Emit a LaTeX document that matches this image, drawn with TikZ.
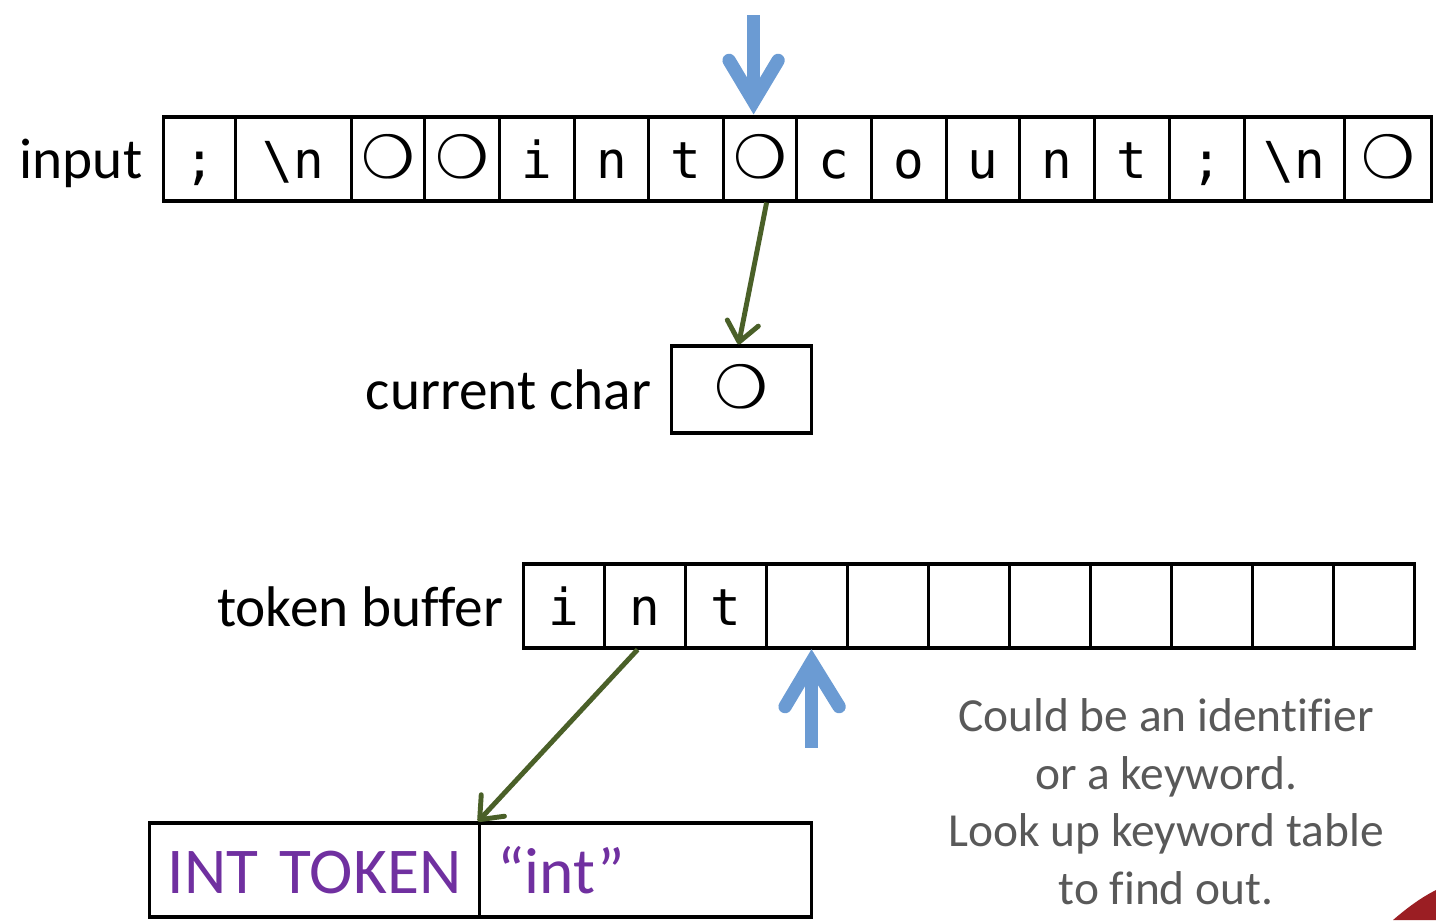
\documentclass[tikz,border=0pt]{standalone}
\usepackage{fontspec}
\setmainfont{Carlito}[Ligatures=NoCommon, RawFeature={-liga;-clig;-calt}]
\newfontfamily\cellfont{DejaVu Sans Mono}
\newfontfamily\symfont{DejaVu Sans}
\usetikzlibrary{positioning,arrows.meta,calc}
\definecolor{ptrblue}{RGB}{107,155,211}
\definecolor{linkgreen}{RGB}{74,96,40}
\definecolor{tokpurple}{RGB}{112,48,160}
\definecolor{notegray}{RGB}{89,89,89}
\definecolor{slidered}{RGB}{155,30,35}
\newcommand{\spc}{{\symfont\fontsize{17}{17}\selectfont ❍}}
\tikzset{
    >={Straight Barb[length=5.5pt,width=9pt,round]},
    cell/.style = {
        draw,
        shape=rectangle,
        anchor=west,
        minimum height=0.84cm,
        inner sep=0pt,
        text height=0.5cm,
        text depth=0.12cm,
        line width=0.9pt,
        font=\cellfont\fontsize{14.5}{16}\selectfont
    },
    lbl/.style = {
        inner sep=0pt,
        anchor=base east,
        font=\fontsize{16.3}{19}\selectfont
    },
    tokbox/.style = {
        draw,
        shape=rectangle,
        anchor=west,
        minimum height=0.94cm,
        inner xsep=0.18cm,
        inner ysep=0pt,
        text height=0.6cm,
        text depth=0.14cm,
        align=left,
        line width=0.9pt,
        text=tokpurple,
        font=\fontsize{18.6}{22}\selectfont
    },
    note/.style = {
        inner sep=0pt,
        align=center,
        text=notegray,
        font=\fontsize{13.5}{16.4}\selectfont
    },
    link/.style = {
        ->,
        draw=linkgreen,
        line width=1.4pt
    },
    pointer/.style = {
        draw=ptrblue,
        line width=3.8pt
    },
    pointer head/.style = {
        pointer,
        line cap=round,
        line join=miter
    }
}
\begin{document}
\begin{tikzpicture}

    \useasboundingbox (0,0) rectangle (14.36,-9.20);

    % input line
    \foreach \x/\w/\c [count=\i] in {
        1.62/0.72/;, 2.34/1.16/\textbackslash n, 3.50/0.73/\spc, 4.23/0.75/\spc,
        4.98/0.75/i, 5.73/0.74/n, 6.47/0.75/t, 7.22/0.73/\spc,
        7.95/0.75/c, 8.70/0.75/o, 9.45/0.73/u, 10.18/0.75/n,
        10.93/0.75/t, 11.68/0.75/;, 12.43/1.00/\textbackslash n, 13.43/0.87/\spc}
    {
        \node[cell, minimum width=\w cm] (in\i) at (\x,-1.59) {\c};
    }
    \node[lbl] (inputlbl) at ([xshift=-0.19cm, yshift=-0.19cm]in1.west) {input};

    % current char
    \node[cell, minimum width=1.40cm, minimum height=0.87cm] (cur) at (6.70,-3.895) {\spc};
    \node[lbl] (curlbl) at ([xshift=-0.18cm, yshift=-0.20cm]cur.west) {current char};

    % token buffer
    \foreach \c [count=\i] in {i,n,t,{},{},{},{},{},{},{},{}}
    {
        \node[cell, minimum width=0.81cm] (tb\i) at ({5.22+0.81*(\i-1)},-6.06) {\c};
    }
    \node[lbl] (tblbl) at ([xshift=-0.18cm, yshift=-0.20cm]tb1.west) {token buffer};

    % token
    \node[tokbox, text width=2.94cm] (tokkind) at (1.48,-8.70) {\mbox{INT TOKEN}};
    \node[tokbox, text width=2.96cm] (tokstr) at (4.78,-8.70) {\mbox{“int”}};

    \node[note] (keynote) at (11.66,-8.015) {Could be an identifier\\or a keyword.\\Look up keyword table\\to find out.};

    % pointers
    \coordinate (inptip) at ([xshift=-0.065cm]in8.north);
    \coordinate (inptr) at ([yshift=1.0cm]inptip);
    \draw[pointer] (inptr) -- ([yshift=0.14cm]inptip);
    \draw[pointer head] ([shift={(-0.245,0.55)}]inptip) -- ([yshift=0.14cm]inptip) -- ([shift={(0.245,0.55)}]inptip);

    \coordinate (tbptip) at ([xshift=0.045cm]tb4.south);
    \coordinate (tbptr) at ([yshift=-0.98cm]tbptip);
    \draw[pointer] (tbptr) -- ([yshift=-0.125cm]tbptip);
    \draw[pointer head] ([shift={(-0.265,-0.57)}]tbptip) -- ([yshift=-0.125cm]tbptip) -- ([shift={(0.275,-0.57)}]tbptip);

    \draw[link] ([xshift=0.065cm]in8.south) -- ([xshift=-0.03cm]cur.north);
    \draw[link] ([xshift=-0.075cm]tb2.south) -- (tokstr.north west);

    % slide corner
    \fill[slidered] (13.93,-9.20) .. controls (14.08,-9.07) and (14.22,-8.97) .. (14.36,-8.90) -- (14.36,-9.20) -- cycle;

\end{tikzpicture}
\end{document}
